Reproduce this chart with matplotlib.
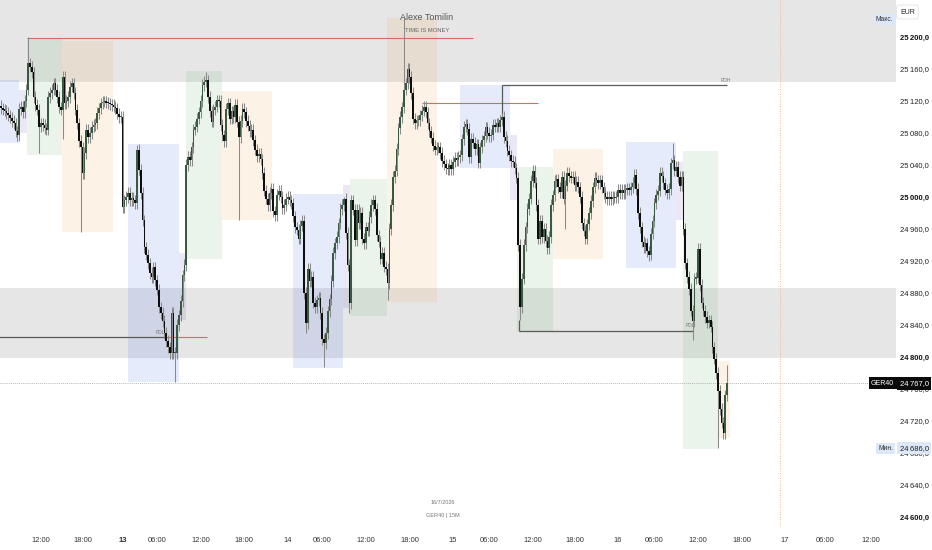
"""GER40 15M chart with session boxes, PDH/PDL levels and zones"""
import numpy as np
import matplotlib.pyplot as plt

plt.rcParams['font.family'] = ['Liberation Sans', 'DejaVu Sans']

# canvas in pixels
W, H = 932, 550
PANE_W, PANE_H = 896, 527

# 15 minute closes, one per bar
closes = [
    25111, 25109, 25108, 25105, 25102, 25099, 25095, 25092, 25082, 25077,
    25110, 25113, 25106, 25120, 25134, 25167, 25163, 25156, 25125, 25115,
    25109, 25088, 25092, 25090, 25086, 25084, 25125, 25130, 25134, 25142,
    25134, 25125, 25112, 25109, 25150, 25117, 25120, 25125, 25138, 25142,
    25130, 25109, 25092, 25070, 25062, 25030, 25055, 25084, 25075, 25080,
    25088, 25090, 25092, 25105, 25111, 25117, 25119, 25119, 25118, 25117,
    25116, 25115, 25113, 25111, 25104, 25100, 25100,
    24987, 24996, 25000,
    25005, 24996, 24999, 24996, 24992, 25059, 25034, 25005, 24971, 24937,
    24928, 24917, 24905, 24900, 24912, 24896, 24884, 24862, 24855, 24845,
    24830, 24820, 24812, 24805, 24855, 24805, 24805, 24840, 24852, 24870,
    24902, 24915, 25040, 25050, 25046, 25062, 25084, 25088, 25098, 25106,
    25120, 25140, 25144, 25146, 25125, 25107, 25094, 25109, 25113, 25121,
    25120, 25090, 25077, 25070, 25110, 25117, 25098, 25107, 25100, 25115,
    25094, 25075, 25095, 25110, 25106, 25095, 25089, 25082, 25084, 25071,
    25059, 25051, 25054, 25047, 25030, 25008, 24998, 24990, 25005, 25010,
    24982, 24977, 25003, 25008, 25000, 24986, 24990, 24998, 25000, 24996,
    24992, 24976, 24962, 24959, 24948, 24964, 24970, 24880, 24842, 24910,
    24895, 24900, 24868, 24862, 24871, 24874, 24855, 24822, 24817, 24830,
    24857, 24872, 24895, 24930, 24942, 24950, 24967, 24985, 24990, 24998,
    24955, 24915, 24867, 24996, 24984, 24946, 24984, 24967, 24980, 24948,
    24942, 24962, 24958, 24975, 24990, 24996, 24985, 24952, 24944, 24923,
    24930, 24913, 24910, 24892, 24960, 24990, 25025, 25033, 25060, 25086,
    25100, 25112, 25134, 25142, 25160, 25150, 25130, 25098, 25092, 25096,
    25096, 25102, 25108, 25113, 25106, 25092, 25082, 25074, 25064, 25059,
    25062, 25062, 25055, 25045, 25041, 25036, 25035, 25040, 25035, 25044,
    25049, 25046, 25050, 25052, 25072, 25088, 25091, 25085, 25050, 25073,
    25068, 25060, 25066, 25043, 25062, 25071, 25076, 25087, 25080, 25076,
    25078, 25090, 25088, 25092, 25088, 25096, 25100, 25075, 25070, 25058,
    25052, 25045, 25044, 25036, 25024, 24940, 24862, 24898, 24940, 24962,
    24985, 24998, 25020, 25033, 25018, 24990, 24948, 24970, 24950, 24960,
    24945, 24936, 24950, 24990, 25002, 25020, 25022, 25012, 25006, 25025,
    24998, 25014, 25030, 25026, 25024, 25025, 25015, 25019, 25012, 25000,
    24967, 24958, 24948, 24966, 24980, 24995, 25012, 25024, 25021, 25017,
    25021, 25012, 25005, 25000, 24997, 25000, 24997, 25000, 24999, 25000,
    25009, 25005, 25009, 25005, 25009, 25011, 25009, 25012, 25018, 25028,
    25010, 24980, 24962, 24944, 24937, 24942, 24932, 24928, 24954, 24970,
    24992, 25003, 25008, 25030, 25026, 25017, 25009, 25005, 25010, 25042,
    25046, 25033, 25038, 25025, 25014, 25025, 24960, 24917, 24900, 24885,
    24858, 24845, 24898, 24899, 24935, 24890, 24868, 24858, 24850, 24843,
    24846, 24838, 24812, 24798, 24780, 24758, 24735, 24718, 24705, 24752,
    24767,
]
first_open = 25114
# long wicks that stand out in the picture: bar -> price
spike_highs = {15: 25200, 34: 25157, 75: 25065, 113: 25156, 189: 25000,
               222: 25224, 276: 25105, 370: 25067, 400: 24790}
spike_lows = {21: 25055, 34: 25072, 44: 24956, 96: 24769, 131: 24971,
              168: 24830, 178: 24787, 192: 24855, 213: 24871, 286: 24846,
              311: 24960, 357: 24920, 381: 24821, 395: 24686}
WICK = 7  # usual wick length [points]

# session boxes (asia / pre / london / ny)
box_kind = ["asia", "pre", "london", "ny",
            "asia", "pre", "london", "ny",
            "asia", "pre", "london", "ny",
            "asia", "pre", "london", "ny",
            "asia", "pre", "london", "ny"]
box_start = [-20, 10, 14.3, 33.6, 70, 98, 102, 121.8, 161, 188.4, 192.3, 212.7,
             252.9, 280.4, 284.3, 304.1, 344.4, 371.9, 375.8, 395]
box_end = [10, 14.3, 33.6, 61.7, 98, 102, 121.8, 149.3, 188.4, 192.3, 212.7, 240.2,
           280.4, 284.3, 304.1, 331.7, 371.9, 375.8, 395, 401.6]
box_high = [25146, 25134, 25199, 25195, 25066, 24930, 25157, 25132, 25004, 25015,
            25022, 25224, 25140, 25077, 25037, 25060, 25069, 25044, 25057, 24795]
box_low = [25067, 25080, 25052, 24956, 24769, 24846, 24922, 24971, 24786, 24861,
           24851, 24869, 25036, 24996, 24831, 24922, 24911, 24971, 24685, 24699]
box_colors = {"asia": (47/255, 97/255, 230/255), "pre": (97/255, 63/255, 172/255),
              "london": (88/255, 172/255, 88/255), "ny": (238/255, 155/255, 47/255)}

# grey supply / demand zones
zone_low = [25144, 24799]
zone_high = [25300, 24886]

# time axis
tick_pos = [22, 45, 67, 86, 110, 134, 158, 177, 201, 225, 249, 269, 293, 316,
            340, 360, 384, 408, 432, 454, 479]
tick_txt = ["12:00", "18:00", "13", "06:00", "12:00", "18:00", "14", "06:00",
            "12:00", "18:00", "15", "06:00", "12:00", "18:00", "16", "06:00",
            "12:00", "18:00", "17", "06:00", "12:00"]
price_ticks = np.arange(24600, 25201, 40)


def fmt_price(v):
    s = f"{v:,.1f}"
    return s.replace(",", "\u2009").replace(".", ",")


def px(x, y):
    """pixel position -> figure fraction"""
    return x / W, 1 - y / H


closes = np.array(closes, dtype=float)
opens = np.concatenate([[first_open], closes[:-1]])
highs = np.maximum(opens, closes) + WICK
lows = np.minimum(opens, closes) - WICK
for i, v in spike_highs.items():
    highs[i] = v
for i, v in spike_lows.items():
    lows[i] = v
bars = np.arange(len(closes))

fig = plt.figure(figsize=(W / 100, H / 100), dpi=100)
ax = fig.add_axes([0, 1 - PANE_H / H, PANE_W / W, PANE_H / H])
ax.set_xlim(-0.55, 493.1)
ax.set_ylim(25200 - (PANE_H - 37) * 1.25, 25200 + 37 * 1.25)

for lo, hi in zip(zone_low, zone_high):
    ax.axhspan(lo, hi, color="#e6e6e6", lw=0, zorder=0)

for k, x0, x1, hi, lo in zip(box_kind, box_start, box_end, box_high, box_low):
    ax.fill_between([x0, x1], lo, hi, color=box_colors[k], alpha=0.12, lw=0, zorder=1)

# levels
ax.hlines(25199, 14.5, 260, color="#e06666", lw=0.8, zorder=2)
ax.hlines(25117.5, 232, 296, color="#e06666", lw=0.8, zorder=2)
ax.hlines(25140, 276, 400, color="#5a5a5a", lw=0.9, zorder=2)
ax.vlines(276, 25100, 25140, color="#5a5a5a", lw=0.9, zorder=2)
ax.hlines(24832.5, 285.5, 381, color="#5a5a5a", lw=0.9, zorder=2)
ax.vlines(285.5, 24832.5, 24846, color="#5a5a5a", lw=0.9, zorder=2)
ax.hlines(24825, -1, 90, color="#5a5a5a", lw=0.9, zorder=2)
ax.hlines(24825, 90, 113.5, color="#e06666", lw=0.8, zorder=2)
ax.text(399.5, 25146, "PDH", fontsize=3.5, color="#777777", ha="center", va="center", zorder=2)
ax.text(379.6, 24839, "PDL", fontsize=3.5, color="#777777", ha="center", va="center", zorder=2)
ax.text(88, 24831, "PDL", fontsize=3.5, color="#777777", ha="center", va="center", zorder=2)

ax.axhline(closes[-1], color="#9a9a9a", lw=0.6, ls=(0, (1, 1.5)), zorder=2)
ax.axvline(429.2, color="#f2b880", lw=0.7, ls=(0, (1, 1.5)), zorder=2)

# candles
up = closes >= opens
ax.vlines(bars, lows, highs, color="#8a8a8a", lw=0.75, zorder=3)
body_lo = np.minimum(opens, closes)
body_h = np.maximum(np.abs(closes - opens), 1.5)
ax.bar(bars[up], body_h[up], bottom=body_lo[up], width=0.9, color="#385a40", lw=0, zorder=4)
ax.bar(bars[~up], body_h[~up], bottom=body_lo[~up], width=0.9, color="#0e0e0e", lw=0, zorder=4)

for s in ax.spines.values():
    s.set_visible(False)

ax.yaxis.tick_right()
ax.set_yticks(price_ticks, [fmt_price(v) for v in price_ticks])
ax.tick_params(axis="y", length=0, pad=3, labelsize=5.5, labelcolor="#222222")
for lbl, v in zip(ax.get_yticklabels(), price_ticks):
    if v % 200 == 0:
        lbl.set_fontweight("bold")
        lbl.set_color("#111111")

ax.set_xticks(tick_pos, tick_txt)
ax.tick_params(axis="x", length=0, pad=7, labelsize=5.4, labelcolor="#333333")
ax.get_xticklabels()[2].set_fontweight("bold")

# price labels on the scale
ytr = ax.get_yaxis_transform()
ax.text(0.998, closes[-1], "GER40", transform=ytr, ha="right", va="center", fontsize=5,
        color="white", bbox=dict(boxstyle="square,pad=0.35", fc="#0b0b0b", ec="none"),
        zorder=6, clip_on=False)
ax.text(1.004, closes[-1], fmt_price(closes[-1]), transform=ytr, ha="left", va="center",
        fontsize=5.5, color="white",
        bbox=dict(boxstyle="square,pad=0.35", fc="#0b0b0b", ec="none"), zorder=6, clip_on=False)
ax.text(0.997, highs.max() - 2, "Макс.", transform=ytr, ha="right", va="center", fontsize=4.8,
        color="#333333", bbox=dict(boxstyle="square,pad=0.3", fc="#dce8f8", ec="none"),
        zorder=6, clip_on=False)
ax.text(0.997, lows.min(), "Мин.", transform=ytr, ha="right", va="center", fontsize=4.8,
        color="#333333", bbox=dict(boxstyle="square,pad=0.3", fc="#dce8f8", ec="none"),
        zorder=6, clip_on=False)
ax.text(1.004, lows.min(), fmt_price(lows.min()), transform=ytr, ha="left", va="center",
        fontsize=5.5, color="#222222",
        bbox=dict(boxstyle="square,pad=0.3", fc="#dce8f8", ec="none"), zorder=6, clip_on=False)

fig.text(*px(900, 12), "EUR", fontsize=5, color="#222222", ha="left", va="center",
         bbox=dict(boxstyle="round,pad=0.5,rounding_size=0.3", fc="white", ec="#e2e2e2", lw=0.6))

# watermark texts
fig.text(*px(427, 17), "Alexe Tomilin", fontsize=6.5, color="#555555", ha="center", va="center")
fig.text(*px(427, 30), "TIME IS MONEY", fontsize=4.2, color="#666666", ha="center", va="center")
fig.text(*px(443, 503), "16/7/2026", fontsize=4, color="#777777", ha="center", va="center")
fig.text(*px(443, 516), "GER40 | 15M", fontsize=4, color="#777777", ha="center", va="center")

fig.savefig("out.png", dpi=100)
